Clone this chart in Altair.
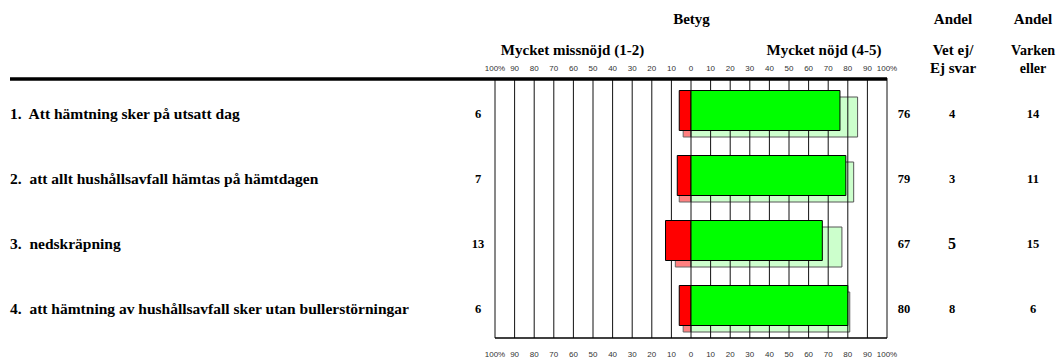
import altair as alt
import pandas as pd

items = [
    "1.\u00a0 Att hämtning sker på utsatt dag",
    "2.\u00a0 att allt hushållsavfall hämtas på hämtdagen",
    "3.\u00a0 nedskräpning",
    "4.\u00a0 att hämtning av hushållsavfall sker utan bullerstörningar",
]
dissatisfied = [6, 7, 13, 6]
satisfied = [76, 79, 67, 80]
dissatisfied_prev = [4, 6, 8, 4]
satisfied_prev = [85, 83, 77, 81]
dont_know = [4, 3, 5, 8]
neither = [14, 11, 15, 6]
tick_values = list(range(-100, 101, 10))
tick_labels = ["100%", "90", "80", "70", "60", "50", "40", "30", "20", "10", "0",
               "10", "20", "30", "40", "50", "60", "70", "80", "90", "100%"]

df = pd.DataFrame({
    "row": [1, 2, 3, 4],
    "item": items,
    "zero": [0, 0, 0, 0],
    "neg": [-v for v in dissatisfied],
    "neg_label": dissatisfied,
    "pos": satisfied,
    "neg_prev": [-v for v in dissatisfied_prev],
    "pos_prev": satisfied_prev,
    "vet": dont_know,
    "varken": neither,
})
ticks = pd.DataFrame({"v": tick_values, "lab": tick_labels})
dummy = pd.DataFrame({"d": [0]})

W, H = 392, 260
SERIF = "Liberation Serif"
SANS = "Liberation Sans"

xs = alt.Scale(domain=[-100, 100], nice=False, zero=False)
ys = alt.Scale(domain=[1, 2, 3, 4], paddingInner=0, paddingOuter=0)
Y = alt.Y("row:O", scale=ys, axis=None)


def xq(field):
    return alt.X(f"{field}:Q", scale=xs, axis=None)


base = alt.Chart(df)

shadow_red = base.mark_bar(size=40, yOffset=6.5, fill="#ff8080", stroke="#666666", strokeWidth=1).encode(
    x=xq("neg_prev"), x2="zero:Q", y=Y)
shadow_green = base.mark_bar(size=40, yOffset=6.5, fill="#ccffcc", stroke="#555555", strokeWidth=1).encode(
    x=xq("zero"), x2="pos_prev:Q", y=Y)

grid = alt.Chart(ticks).mark_rule(color="#111111", strokeWidth=1).encode(
    x=alt.X("v:Q", scale=xs, axis=None), y=alt.value(0), y2=alt.value(H))

main_red = base.mark_bar(size=40, fill="#ff0000", stroke="#000000", strokeWidth=1).encode(
    x=xq("neg"), x2="zero:Q", y=Y)
main_green = base.mark_bar(size=40, fill="#00ff00", stroke="#000000", strokeWidth=1).encode(
    x=xq("zero"), x2="pos:Q", y=Y)

top_line = alt.Chart(dummy).mark_rule(color="#000000", strokeWidth=3.5).encode(
    x=alt.value(-485), x2=alt.value(W), y=alt.value(1))
bottom_line = alt.Chart(dummy).mark_rule(color="#000000", strokeWidth=1.5).encode(
    x=alt.value(0), x2=alt.value(W), y=alt.value(H))

top_labels = alt.Chart(ticks).mark_text(font=SANS, fontSize=8, color="#333333", baseline="alphabetic").encode(
    x=alt.X("v:Q", scale=xs, axis=None), y=alt.value(-7), text="lab:N")
bottom_labels = alt.Chart(ticks).mark_text(font=SANS, fontSize=8, color="#333333", baseline="alphabetic").encode(
    x=alt.X("v:Q", scale=xs, axis=None), y=alt.value(H + 19), text="lab:N")

txt = dict(font=SERIF, fontWeight="bold", baseline="middle", dy=3, color="#000000")
row_labels = base.mark_text(align="left", fontSize=15.5, **txt).encode(
    x=alt.value(-485), y=Y, text="item:N")
neg_nums = base.mark_text(align="center", fontSize=12.5, **txt).encode(
    x=alt.value(-17), y=Y, text="neg_label:Q")
pos_nums = base.mark_text(align="center", fontSize=12.5, **txt).encode(
    x=alt.value(W + 17), y=Y, text="pos:Q")
vet_nums = base.mark_text(align="center", **txt).encode(
    x=alt.value(W + 65), y=Y, text="vet:Q",
    size=alt.condition("datum.row == 3", alt.value(16), alt.value(12.5)))
varken_nums = base.mark_text(align="center", fontSize=12.5, **txt).encode(
    x=alt.value(W + 146), y=Y, text="varken:Q")

hdr = dict(font=SERIF, fontWeight="bold", baseline="alphabetic", align="center", color="#000000")
h_betyg = alt.Chart(dummy).mark_text(text="Betyg", fontSize=15, **hdr).encode(
    x=alt.value(196.5), y=alt.value(-54))
h_neg = alt.Chart(dummy).mark_text(text="Mycket missnöjd (1-2)", fontSize=15, **hdr).encode(
    x=alt.value(77.5), y=alt.value(-23))
h_pos = alt.Chart(dummy).mark_text(text="Mycket nöjd (4-5)", fontSize=15, **hdr).encode(
    x=alt.value(329), y=alt.value(-23))
h_andel1 = alt.Chart(dummy).mark_text(text="Andel", fontSize=15, **hdr).encode(
    x=alt.value(W + 66), y=alt.value(-54))
h_andel2 = alt.Chart(dummy).mark_text(text="Andel", fontSize=15, **hdr).encode(
    x=alt.value(W + 146), y=alt.value(-54))
h_vet = alt.Chart(dummy).mark_text(text=["Vet ej/", "Ej svar"], fontSize=15, lineHeight=17.5, **hdr).encode(
    x=alt.value(W + 66), y=alt.value(-23))
h_varken = alt.Chart(dummy).mark_text(text=["Varken", "eller"], fontSize=14, lineHeight=17.5, **hdr).encode(
    x=alt.value(W + 146), y=alt.value(-23))

chart = alt.layer(
    shadow_red, shadow_green, grid, main_red, main_green, top_line, bottom_line,
    top_labels, bottom_labels, row_labels, neg_nums, pos_nums, vet_nums, varken_nums,
    h_betyg, h_neg, h_pos, h_andel1, h_andel2, h_vet, h_varken,
).properties(
    width=W, height=H,
    autosize=alt.AutoSizeParams(type="none"),
    padding={"left": 495, "top": 78, "right": 174, "bottom": 22},
    background="white",
).configure_view(stroke=None)

chart.save("out.html", embed_options={"renderer": "svg", "actions": False})
